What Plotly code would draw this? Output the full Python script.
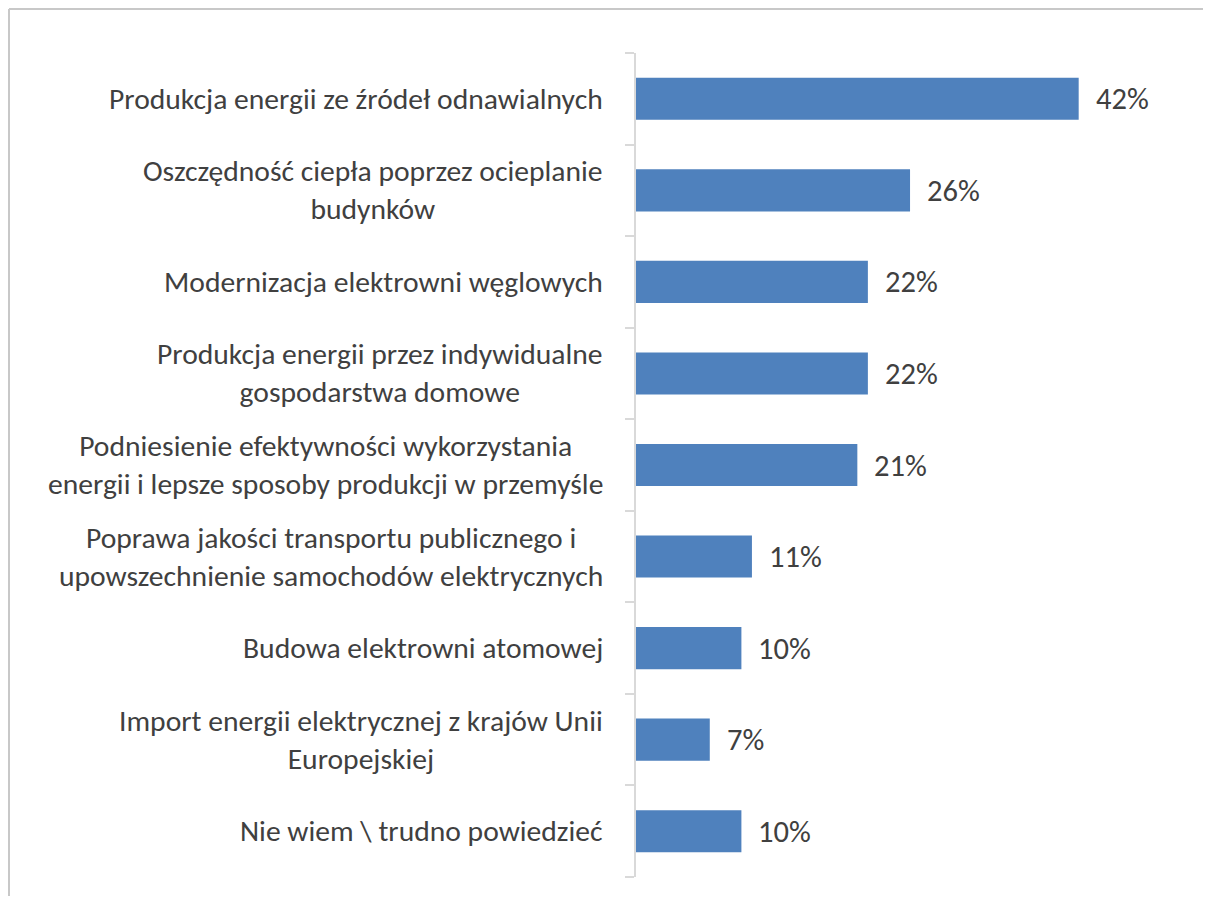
import plotly.graph_objects as go

categories = [
    "Produkcja energii ze źródeł odnawialnych",
    "Oszczędność ciepła poprzez ocieplanie<br>budynków",
    "Modernizacja elektrowni węglowych",
    "Produkcja energii przez indywidualne<br>gospodarstwa domowe",
    "Podniesienie efektywności wykorzystania<br>energii i lepsze sposoby produkcji w przemyśle",
    "Poprawa jakości transportu publicznego i<br>upowszechnienie samochodów elektrycznych",
    "Budowa elektrowni atomowej",
    "Import energii elektrycznej z krajów Unii<br>Europejskiej",
    "Nie wiem \\ trudno powiedzieć",
]
values = [42, 26, 22, 22, 21, 11, 10, 7, 10]
value_labels = [f"{v}%" for v in values]

FONT = "Carlito, Calibri, Lato, sans-serif"
TXT = "#404040"
BAR = "#4F81BD"
AX = "#D9D9D9"

# page body has an 8px margin; keep the figure inside the window (no scrollbars)
W, H = 1195, 888
ML, MR, MT, MB = 628, 40, 45, 19

fig = go.Figure()
fig.add_trace(go.Bar(
    x=values, y=list(range(len(categories))), orientation="h",
    marker=dict(color=BAR, line=dict(width=0)),
    hoverinfo="skip",
))

annotations = []
for i, (c, v, lab) in enumerate(zip(categories, values, value_labels)):
    annotations.append(dict(
        x=0, xref="paper", y=i, yref="y", text=c, showarrow=False,
        xanchor="right", yanchor="middle", align="center", xshift=-31,
        font=dict(family=FONT, size=29.6, color=TXT),
    ))
    annotations.append(dict(
        x=v, xref="x", y=i, yref="y", text=lab, showarrow=False,
        xanchor="left", yanchor="middle", xshift=15,
        font=dict(family=FONT, size=30.5, color=TXT),
    ))

pw = W - ML - MR
ph = H - MT - MB
xl = (1 - ML) / pw
xr = (W + 40 - ML) / pw
yt = (H - MB - 1) / ph
yb = -(MB + 40) / ph
border = dict(color="#C8C8C8", width=2)
fig.add_shape(type="line", xref="paper", yref="paper", x0=xl, x1=xr, y0=yt, y1=yt, line=border, layer="below")
fig.add_shape(type="line", xref="paper", yref="paper", x0=xl, x1=xl, y0=yt, y1=yb, line=border, layer="below")

fig.update_layout(
    width=W, height=H,
    margin=dict(l=ML, r=MR, t=MT, b=MB, pad=0),
    paper_bgcolor="white", plot_bgcolor="white",
    showlegend=False, bargap=0.54,
    annotations=annotations,
    xaxis=dict(range=[0, 50], visible=False, fixedrange=True),
    yaxis=dict(
        type="linear", range=[len(categories) - 0.5, -0.5],
        showticklabels=False, showgrid=False, zeroline=False,
        showline=True, linecolor=AX, linewidth=2,
        ticks="outside", ticklen=9, tickcolor=AX, tickwidth=2,
        tickmode="array", tickvals=[i - 0.5 for i in range(len(categories) + 1)],
    ),
)

fig.write_html("out.html")
